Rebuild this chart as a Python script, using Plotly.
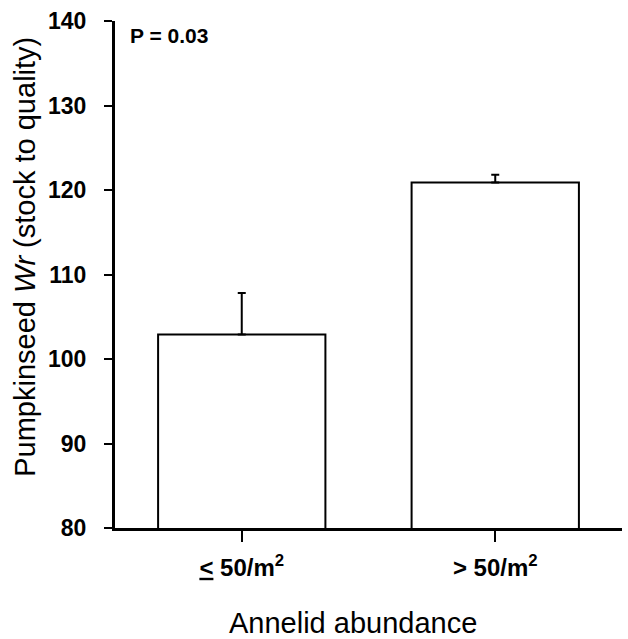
import plotly.graph_objects as go

categories = ["<u>&lt;</u> 50/m<sup>2</sup>", "&gt; 50/m<sup>2</sup>"]
wr_means = [102.9, 120.9]
wr_se = [4.9, 0.9]
y_ticks = [80, 90, 100, 110, 120, 130, 140]
p_label = "P = 0.03"
x_title = "Annelid abundance"
y_title = "Pumpkinseed <i>Wr</i> (stock to quality)"

W, H = 628, 639
L, R, T, B = 115, 6, 21, 110.5
ph = H - T - B
pw = W - L - R

def py(p):
    return (H - B - p) / ph

def px(p):
    return (p - L) / pw

FONT = "Liberation Sans, Arial, sans-serif"

fig = go.Figure()
fig.add_trace(go.Bar(
    x=[0, 1], y=wr_means, width=0.66,
    marker=dict(color="white", line=dict(color="black", width=2)),
    error_y=dict(type="data", array=wr_se, arrayminus=[0, 0], symmetric=False,
                 color="black", thickness=2, width=4),
    showlegend=False,
))

fig.update_layout(
    width=W, height=H,
    margin=dict(l=L, r=R, t=T, b=B, pad=0),
    paper_bgcolor="white", plot_bgcolor="white",
    font=dict(family=FONT, color="black"),
    xaxis=dict(range=[-0.5, 1.5], tickmode="array", tickvals=[0, 1], ticktext=categories,
               showline=True, linecolor="black", linewidth=3, ticks="outside",
               ticklen=11, tickwidth=2, tickcolor="black", showgrid=False, zeroline=False,
               tickfont=dict(family=FONT, size=24, color="black", weight="bold"),
               ticklabelstandoff=5),
    yaxis=dict(range=[80, 140], tickmode="array", tickvals=y_ticks,
               showline=True, linecolor="black", linewidth=3, ticks="outside",
               ticklen=8, tickwidth=2, tickcolor="black", showgrid=False, zeroline=False,
               tickfont=dict(family=FONT, size=23, color="black", weight="bold"),
               ticklabelstandoff=13),
    bargap=0.34,
)

fig.add_annotation(text=p_label, xref="paper", yref="paper", x=px(128), y=py(36),
                   xanchor="left", yanchor="middle", showarrow=False,
                   font=dict(family=FONT, size=21, color="black", weight="bold"))
fig.add_annotation(text=x_title, xref="paper", yref="paper", x=px(353), y=py(624),
                   xanchor="center", yanchor="middle", showarrow=False,
                   font=dict(family=FONT, size=29, color="black"))
fig.add_annotation(text=y_title, xref="paper", yref="paper", x=px(25), y=py(257),
                   xanchor="center", yanchor="middle", showarrow=False, textangle=-90,
                   font=dict(family=FONT, size=29, color="black"))

fig.write_html("out.html")
